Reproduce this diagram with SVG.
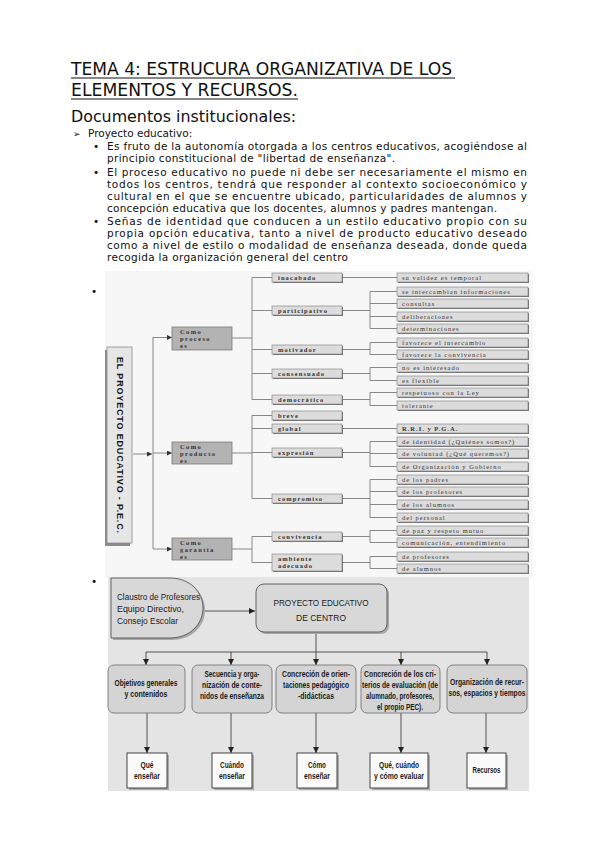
<svg xmlns="http://www.w3.org/2000/svg" width="599" height="848" viewBox="0 0 599 848">
<defs>
<style>
.t{font-family:"DejaVu Sans","Liberation Sans",sans-serif;fill:#111}
.body{font-size:10.5px}
.l1{fill:#b3b3b3;stroke:#7a7a7a;stroke-width:0.8}
.l1t{font-family:"Liberation Serif",serif;font-size:6.5px;font-weight:bold;letter-spacing:1.4px;fill:#333}
.l2{fill:#dcdcdc;stroke:#8a8a8a;stroke-width:0.7}
.l2s{fill:#6e6e6e}
.l2t{font-family:"Liberation Serif",serif;font-size:6.5px;font-weight:bold;letter-spacing:1.1px;fill:#333}
.l3t{font-family:"Liberation Serif",serif;font-size:6.5px;letter-spacing:1px;fill:#333}
.c1{fill:none;stroke:#7a7a7a;stroke-width:0.9}
.c2{fill:none;stroke:#444;stroke-width:0.9}
.mb{fill:#d4d4d4;stroke:#6a6a6a;stroke-width:0.8}
.mt{font-family:"Liberation Sans",sans-serif;font-size:8.5px;fill:#1a1a1a;text-anchor:middle}
.bold{font-weight:bold}
.bb{fill:#fafafa;stroke:#333;stroke-width:0.9}
</style>
<marker id="ah" viewBox="0 0 10 10" refX="10" refY="5" markerWidth="5" markerHeight="5" markerUnits="userSpaceOnUse" orient="auto"><path d="M0,0 L10,5 L0,10 z" fill="#333"/></marker>
<marker id="ah2" viewBox="0 0 10 10" refX="10" refY="5" markerWidth="6" markerHeight="6" markerUnits="userSpaceOnUse" orient="auto"><path d="M0,0 L10,5 L0,10 z" fill="#222"/></marker>
</defs>
<rect x="0" y="0" width="599" height="848" fill="#ffffff"/>

<g id="heading">
<text class="t" x="71" y="75" font-size="17" textLength="381" lengthAdjust="spacingAndGlyphs">TEMA 4: ESTRUCURA ORGANIZATIVA DE LOS</text>
<line x1="71" y1="78" x2="455" y2="78" stroke="#111" stroke-width="1"/>
<text class="t" x="71" y="96" font-size="17" textLength="227" lengthAdjust="spacingAndGlyphs">ELEMENTOS Y RECURSOS.</text>
<line x1="71" y1="99" x2="298" y2="99" stroke="#111" stroke-width="1"/>
<text class="t" x="71" y="122" font-size="15" textLength="225" lengthAdjust="spacingAndGlyphs">Documentos institucionales:</text>
<text class="t" x="73" y="137" font-size="9">➢</text>
<text class="t body" x="88" y="137">Proyecto educativo:</text>
<text class="t body" x="93" y="150">•</text>
<text class="t body" x="107" y="150" textLength="420" lengthAdjust="spacing">Es fruto de la autonomía otorgada a los centros educativos, acogiéndose al</text>
<text class="t body" x="107" y="162" textLength="288" lengthAdjust="spacing">principio constitucional de "libertad de enseñanza".</text>
<text class="t body" x="93" y="176">•</text>
<text class="t body" x="107" y="176" textLength="420" lengthAdjust="spacing">El proceso educativo no puede ni debe ser necesariamente el mismo en</text>
<text class="t body" x="107" y="188" textLength="420" lengthAdjust="spacing">todos los centros, tendrá que responder al contexto socioeconómico y</text>
<text class="t body" x="107" y="200" textLength="420" lengthAdjust="spacing">cultural en el que se encuentre ubicado, particularidades de alumnos y</text>
<text class="t body" x="107" y="212" textLength="390" lengthAdjust="spacing">concepción educativa que los docentes, alumnos y padres mantengan.</text>
<text class="t body" x="93" y="225">•</text>
<text class="t body" x="107" y="225" textLength="420" lengthAdjust="spacing">Señas de identidad que conducen a un estilo educativo propio con su</text>
<text class="t body" x="107" y="237" textLength="420" lengthAdjust="spacing">propia opción educativa, tanto a nivel de producto educativo deseado</text>
<text class="t body" x="107" y="249" textLength="420" lengthAdjust="spacing">como a nivel de estilo o modalidad de enseñanza deseada, donde queda</text>
<text class="t body" x="107" y="261" textLength="241" lengthAdjust="spacing">recogida la organización general del centro</text>
<text class="t body" x="91" y="295">•</text>
<text class="t body" x="91" y="585">•</text>
</g>

<!-- Diagram 1 -->
<rect x="105" y="271" width="428" height="307" fill="#f7f7f7"/>

<g id="connectors1">
<path class="c1" d="M153,337 V549"/>
<path class="c1" d="M133,454 H152" marker-end="url(#ah)"/>
<path class="c1" d="M153,337.5 H172" marker-end="url(#ah)"/>
<path class="c1" d="M153,453 H172" marker-end="url(#ah)"/>
<path class="c1" d="M153,549 H172" marker-end="url(#ah)"/>
<path class="c1" d="M232,338 H252 M252,277.5 V399.5 M252,277.5 H272 M252,310.5 H272 M252,349.5 H272 M252,373.5 H272 M252,399.5 H272"/>
<path class="c1" d="M232,453 H252 M252,415.5 V498.5 M252,415.5 H272 M252,428.5 H272 M252,452.5 H272 M252,498.5 H272"/>
<path class="c1" d="M232,549 H252 M252,536.5 V562.5 M252,536.5 H272 M252,562.5 H272"/>
<path class="c1" d="M342,277.5 H397"/>
<path class="c1" d="M342,310.5 H370 M370,291.5 V328.5 M370,291.5 H397 M370,303.5 H397 M370,316.5 H397 M370,328.5 H397"/>
<path class="c1" d="M342,349.5 H370 M370,342.5 V354.5 M370,342.5 H397 M370,354.5 H397"/>
<path class="c1" d="M342,373.5 H370 M370,367.5 V380.5 M370,367.5 H397 M370,380.5 H397"/>
<path class="c1" d="M342,399.5 H370 M370,392.5 V405.5 M370,392.5 H397 M370,405.5 H397"/>
<path class="c1" d="M342,428.5 H397"/>
<path class="c1" d="M342,452.5 H370 M370,441.5 V466.5 M370,441.5 H397 M370,453.5 H397 M370,466.5 H397"/>
<path class="c1" d="M342,498.5 H370 M370,479.5 V517.5 M370,479.5 H397 M370,491.5 H397 M370,504.5 H397 M370,517.5 H397"/>
<path class="c1" d="M342,536.5 H370 M370,530.5 V542.5 M370,530.5 H397 M370,542.5 H397"/>
<path class="c1" d="M342,562.5 H370 M370,556.5 V568.5 M370,556.5 H397 M370,568.5 H397"/>
</g>

<g id="pec-vertical">
<rect x="105" y="350" width="25" height="196" fill="#8c8c8c"/>
<rect x="107" y="347" width="25" height="196" fill="#e6e6e6" stroke="#8a8a8a" stroke-width="0.8"/>
<text transform="translate(119.5,357) rotate(90)" font-family="Liberation Sans,sans-serif" font-size="9" font-weight="bold" fill="#1a1a1a" dominant-baseline="central" textLength="176" lengthAdjust="spacing">EL PROYECTO EDUCATIVO - P.E.C.</text>
</g>

<g id="como-proceso">
<rect class="l1" x="172" y="327" width="60" height="23"/>
<text class="l1t" x="180" y="334">Como</text><text class="l1t" x="180" y="341">proceso</text><text class="l1t" x="180" y="348">es</text>
</g>
<g id="como-producto">
<rect class="l1" x="172" y="442" width="60" height="22"/>
<text class="l1t" x="180" y="449">Como</text><text class="l1t" x="180" y="456">producto</text><text class="l1t" x="180" y="463">es</text>
</g>
<g id="como-garantia">
<rect class="l1" x="172" y="538" width="60" height="22"/>
<text class="l1t" x="180" y="545">Como</text><text class="l1t" x="180" y="552">garantía</text><text class="l1t" x="180" y="559">es</text>
</g>

<g id="level2">
<g id="n-inacabado"><rect class="l2s" x="273" y="274" width="70" height="9"/><rect class="l2" x="272" y="273" width="70" height="9"/><text class="l2t" x="278" y="279.8">inacabado</text></g>
<g id="n-participativo"><rect class="l2s" x="273" y="307" width="70" height="9"/><rect class="l2" x="272" y="306" width="70" height="9"/><text class="l2t" x="278" y="312.8">participativo</text></g>
<g id="n-motivador"><rect class="l2s" x="273" y="346" width="70" height="9"/><rect class="l2" x="272" y="345" width="70" height="9"/><text class="l2t" x="278" y="351.8">motivador</text></g>
<g id="n-consensuado"><rect class="l2s" x="273" y="370" width="70" height="9"/><rect class="l2" x="272" y="369" width="70" height="9"/><text class="l2t" x="278" y="375.8">consensuado</text></g>
<g id="n-democratico"><rect class="l2s" x="273" y="396" width="70" height="9"/><rect class="l2" x="272" y="395" width="70" height="9"/><text class="l2t" x="278" y="401.8">democrático</text></g>
<g id="n-breve"><rect class="l2s" x="273" y="412" width="70" height="9"/><rect class="l2" x="272" y="411" width="70" height="9"/><text class="l2t" x="278" y="417.8">breve</text></g>
<g id="n-global"><rect class="l2s" x="273" y="425" width="70" height="9"/><rect class="l2" x="272" y="424" width="70" height="9"/><text class="l2t" x="278" y="430.8">global</text></g>
<g id="n-expresion"><rect class="l2s" x="273" y="449" width="70" height="9"/><rect class="l2" x="272" y="448" width="70" height="9"/><text class="l2t" x="278" y="454.8">expresión</text></g>
<g id="n-compromiso"><rect class="l2s" x="273" y="495" width="70" height="9"/><rect class="l2" x="272" y="494" width="70" height="9"/><text class="l2t" x="278" y="500.8">compromiso</text></g>
<g id="n-convivencia"><rect class="l2s" x="273" y="533" width="70" height="9"/><rect class="l2" x="272" y="532" width="70" height="9"/><text class="l2t" x="278" y="538.8">convivencia</text></g>
<g id="n-ambiente"><rect class="l2s" x="273" y="555" width="70" height="17"/><rect class="l2" x="272" y="554" width="70" height="17"/><text class="l2t" x="278" y="560.5">ambiente</text><text class="l2t" x="278" y="568">adecuado</text></g>
</g>

<g id="level3">
<g id="m1"><rect class="l2s" x="398" y="274" width="131" height="9"/><rect class="l2" x="397" y="273" width="131" height="9"/><text class="l3t" x="402" y="279.8">su validez es temporal</text></g>
<g id="m2"><rect class="l2s" x="398" y="288" width="131" height="9"/><rect class="l2" x="397" y="287" width="131" height="9"/><text class="l3t" x="402" y="293.8">se intercambian informaciones</text></g>
<g id="m3"><rect class="l2s" x="398" y="300" width="131" height="9"/><rect class="l2" x="397" y="299" width="131" height="9"/><text class="l3t" x="402" y="305.8">consultas</text></g>
<g id="m4"><rect class="l2s" x="398" y="313" width="131" height="9"/><rect class="l2" x="397" y="312" width="131" height="9"/><text class="l3t" x="402" y="318.8">deliberaciones</text></g>
<g id="m5"><rect class="l2s" x="398" y="325" width="131" height="9"/><rect class="l2" x="397" y="324" width="131" height="9"/><text class="l3t" x="402" y="330.8">determinaciones</text></g>
<g id="m6"><rect class="l2s" x="398" y="339" width="131" height="9"/><rect class="l2" x="397" y="338" width="131" height="9"/><text class="l3t" x="402" y="344.8">favorece el intercambio</text></g>
<g id="m7"><rect class="l2s" x="398" y="351" width="131" height="9"/><rect class="l2" x="397" y="350" width="131" height="9"/><text class="l3t" x="402" y="356.8">favorece la convivencia</text></g>
<g id="m8"><rect class="l2s" x="398" y="364" width="131" height="9"/><rect class="l2" x="397" y="363" width="131" height="9"/><text class="l3t" x="402" y="369.8">no es interesado</text></g>
<g id="m9"><rect class="l2s" x="398" y="377" width="131" height="9"/><rect class="l2" x="397" y="376" width="131" height="9"/><text class="l3t" x="402" y="382.8">es flexible</text></g>
<g id="m10"><rect class="l2s" x="398" y="389" width="131" height="9"/><rect class="l2" x="397" y="388" width="131" height="9"/><text class="l3t" x="402" y="394.8">respetuoso con la Ley</text></g>
<g id="m11"><rect class="l2s" x="398" y="402" width="131" height="9"/><rect class="l2" x="397" y="401" width="131" height="9"/><text class="l3t" x="402" y="407.8">tolerante</text></g>
<g id="m12"><rect class="l2s" x="398" y="425" width="131" height="9"/><rect class="l2" x="397" y="424" width="131" height="9"/><text class="l3t" x="402" y="430.8" font-weight="bold">R.R.I. y P.G.A.</text></g>
<g id="m13"><rect class="l2s" x="398" y="438" width="131" height="9"/><rect class="l2" x="397" y="437" width="131" height="9"/><text class="l3t" x="402" y="443.8" letter-spacing="0.45">de identidad (¿Quiénes somos?)</text></g>
<g id="m14"><rect class="l2s" x="398" y="450" width="131" height="9"/><rect class="l2" x="397" y="449" width="131" height="9"/><text class="l3t" x="402" y="455.8" letter-spacing="0.55">de voluntad (¿Qué queremos?)</text></g>
<g id="m15"><rect class="l2s" x="398" y="463" width="131" height="9"/><rect class="l2" x="397" y="462" width="131" height="9"/><text class="l3t" x="402" y="468.8" letter-spacing="0.65">de Organización y Gobierno</text></g>
<g id="m16"><rect class="l2s" x="398" y="476" width="131" height="9"/><rect class="l2" x="397" y="475" width="131" height="9"/><text class="l3t" x="402" y="481.8">de los padres</text></g>
<g id="m17"><rect class="l2s" x="398" y="488" width="131" height="9"/><rect class="l2" x="397" y="487" width="131" height="9"/><text class="l3t" x="402" y="493.8">de los profesores</text></g>
<g id="m18"><rect class="l2s" x="398" y="501" width="131" height="9"/><rect class="l2" x="397" y="500" width="131" height="9"/><text class="l3t" x="402" y="506.8">de los alumnos</text></g>
<g id="m19"><rect class="l2s" x="398" y="514" width="131" height="9"/><rect class="l2" x="397" y="513" width="131" height="9"/><text class="l3t" x="402" y="519.8">del personal</text></g>
<g id="m20"><rect class="l2s" x="398" y="527" width="131" height="9"/><rect class="l2" x="397" y="526" width="131" height="9"/><text class="l3t" x="402" y="532.8">de paz y respeto mutuo</text></g>
<g id="m21"><rect class="l2s" x="398" y="539" width="131" height="9"/><rect class="l2" x="397" y="538" width="131" height="9"/><text class="l3t" x="402" y="544.8">comunicación, entendimiento</text></g>
<g id="m22"><rect class="l2s" x="398" y="553" width="131" height="9"/><rect class="l2" x="397" y="552" width="131" height="9"/><text class="l3t" x="402" y="558.8">de profesores</text></g>
<g id="m23"><rect class="l2s" x="398" y="565" width="131" height="9"/><rect class="l2" x="397" y="564" width="131" height="9"/><text class="l3t" x="402" y="570.8">de alumnos</text></g>
</g>

<!-- Diagram 2 -->
<rect x="108" y="577" width="421" height="214" fill="#e4e4e4"/>

<g id="connectors2">
<path class="c2" d="M203,611 H255" marker-end="url(#ah2)"/>
<path class="c2" d="M316,632 V652 M146,652 H487"/>
<path class="c2" d="M146,652 V665" marker-end="url(#ah2)"/>
<path class="c2" d="M231,652 V665" marker-end="url(#ah2)"/>
<path class="c2" d="M316,652 V665" marker-end="url(#ah2)"/>
<path class="c2" d="M401,652 V665" marker-end="url(#ah2)"/>
<path class="c2" d="M487,652 V665" marker-end="url(#ah2)"/>
<path class="c2" d="M147,713 V753" marker-end="url(#ah2)"/>
<path class="c2" d="M231,713 V753" marker-end="url(#ah2)"/>
<path class="c2" d="M316,713 V753" marker-end="url(#ah2)"/>
<path class="c2" d="M401,713 V753" marker-end="url(#ah2)"/>
<path class="c2" d="M486,713 V753" marker-end="url(#ah2)"/>
</g>

<g id="claustro">
<path d="M113,580 H172 C192,580 205,594 205,610 C205,626 192,640 172,640 H113 Z" fill="#a8a8a8"/>
<path d="M111,578 H170 C190,578 203,592 203,608 C203,624 190,638 170,638 H111 Z" fill="#d8d8d8" stroke="#555" stroke-width="0.9"/>
<text class="mt" x="117" y="600" style="text-anchor:start" textLength="83" lengthAdjust="spacingAndGlyphs">Claustro de Profesores</text>
<text class="mt" x="117" y="612" style="text-anchor:start" textLength="67" lengthAdjust="spacingAndGlyphs">Equipo Directivo,</text>
<text class="mt" x="117" y="624" style="text-anchor:start" textLength="61" lengthAdjust="spacingAndGlyphs">Consejo Escolar</text>
</g>

<g id="pec-box">
<rect x="258" y="586" width="131" height="48" rx="8" fill="#a8a8a8"/>
<rect x="256" y="584" width="131" height="48" rx="8" fill="#d8d8d8" stroke="#555" stroke-width="0.9"/>
<text class="mt" x="321" y="606" font-size="10.5" textLength="95" lengthAdjust="spacingAndGlyphs">PROYECTO EDUCATIVO</text>
<text class="mt" x="321" y="621" font-size="10.5" textLength="50" lengthAdjust="spacingAndGlyphs">DE CENTRO</text>
</g>

<g id="objetivos">
<rect class="mb" x="108" y="665" width="77" height="48" rx="6"/>
<text class="mt bold" x="146" y="686" textLength="63" lengthAdjust="spacingAndGlyphs">Objetivos generales</text>
<text class="mt bold" x="146" y="697" textLength="43" lengthAdjust="spacingAndGlyphs">y contenidos</text>
</g>
<g id="secuencia">
<rect class="mb" x="192" y="665" width="80" height="48" rx="6"/>
<text class="mt bold" x="232" y="677" textLength="55" lengthAdjust="spacingAndGlyphs">Secuencia y orga-</text>
<text class="mt bold" x="232" y="688" textLength="60" lengthAdjust="spacingAndGlyphs">nización de conte-</text>
<text class="mt bold" x="232" y="699" textLength="64" lengthAdjust="spacingAndGlyphs">nidos de enseñanza</text>
</g>
<g id="orientaciones">
<rect class="mb" x="276" y="665" width="80" height="48" rx="6"/>
<text class="mt bold" x="316" y="677" textLength="68" lengthAdjust="spacingAndGlyphs">Concreción de orien-</text>
<text class="mt bold" x="316" y="688" textLength="66" lengthAdjust="spacingAndGlyphs">taciones pedagógico</text>
<text class="mt bold" x="316" y="699" textLength="36" lengthAdjust="spacingAndGlyphs">-didácticas</text>
</g>
<g id="criterios">
<rect class="mb" x="361" y="665" width="79" height="48" rx="6"/>
<text class="mt bold" x="400" y="677" textLength="72" lengthAdjust="spacingAndGlyphs">Concreción de los cri-</text>
<text class="mt bold" x="400" y="688" textLength="76" lengthAdjust="spacingAndGlyphs">terios de evaluación (de</text>
<text class="mt bold" x="400" y="699" textLength="68" lengthAdjust="spacingAndGlyphs">alumnado, profesores,</text>
<text class="mt bold" x="400" y="710" textLength="46" lengthAdjust="spacingAndGlyphs">el propio PEC).</text>
</g>
<g id="organizacion">
<rect class="mb" x="447" y="665" width="80" height="48" rx="6"/>
<text class="mt bold" x="487" y="685" textLength="74" lengthAdjust="spacingAndGlyphs">Organización de recur-</text>
<text class="mt bold" x="487" y="696" textLength="77" lengthAdjust="spacingAndGlyphs">sos, espacios y tiempos</text>
</g>

<g id="que-ensenar">
<rect x="129" y="755" width="40" height="35" fill="#aaa"/>
<rect class="bb" x="127" y="753" width="40" height="35"/>
<text class="mt bold" x="147" y="768" textLength="13" lengthAdjust="spacingAndGlyphs">Qué</text>
<text class="mt bold" x="147" y="779" textLength="26" lengthAdjust="spacingAndGlyphs">enseñar</text>
</g>
<g id="cuando-ensenar">
<rect x="214" y="755" width="40" height="35" fill="#aaa"/>
<rect class="bb" x="212" y="753" width="40" height="35"/>
<text class="mt bold" x="232" y="768" textLength="24" lengthAdjust="spacingAndGlyphs">Cuándo</text>
<text class="mt bold" x="232" y="779" textLength="26" lengthAdjust="spacingAndGlyphs">enseñar</text>
</g>
<g id="como-ensenar">
<rect x="299" y="755" width="40" height="35" fill="#aaa"/>
<rect class="bb" x="297" y="753" width="40" height="35"/>
<text class="mt bold" x="317" y="768" textLength="18" lengthAdjust="spacingAndGlyphs">Cómo</text>
<text class="mt bold" x="317" y="779" textLength="26" lengthAdjust="spacingAndGlyphs">enseñar</text>
</g>
<g id="evaluar">
<rect x="372" y="755" width="58" height="35" fill="#aaa"/>
<rect class="bb" x="370" y="753" width="58" height="35"/>
<text class="mt bold" x="399" y="768" textLength="40" lengthAdjust="spacingAndGlyphs">Qué, cuándo</text>
<text class="mt bold" x="399" y="779" textLength="50" lengthAdjust="spacingAndGlyphs">y cómo evaluar</text>
</g>
<g id="recursos">
<rect x="469" y="755" width="39" height="35" fill="#aaa"/>
<rect class="bb" x="467" y="753" width="39" height="35"/>
<text class="mt bold" x="486.5" y="773" textLength="28" lengthAdjust="spacingAndGlyphs">Recursos</text>
</g>
</svg>
